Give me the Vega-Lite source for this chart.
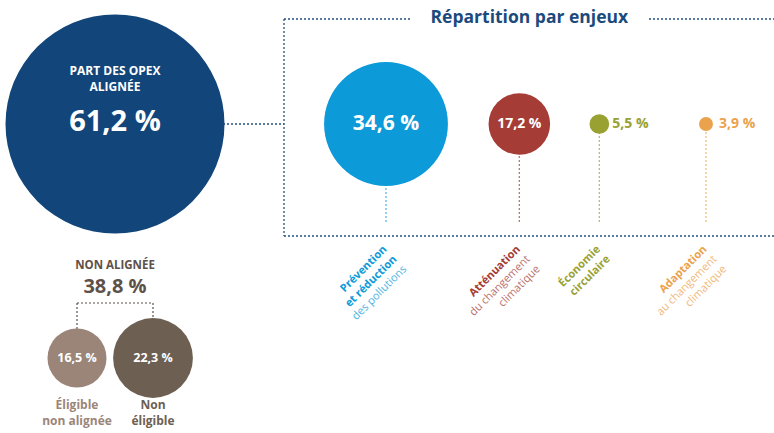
{
  "$schema": "https://vega.github.io/schema/vega-lite/v6.json",
  "width": 774,
  "height": 433,
  "padding": 0,
  "autosize": {"type": "none"},
  "background": "white",
  "config": {
    "view": {"stroke": null},
    "font": "Open Sans",
    "axis": {"disable": true},
    "locale": {"number": {"decimal": ",", "thousands": " ", "grouping": [3], "currency": ["", " €"], "percent": " %"}}
  },
  "datasets": {
    "opex": [
      {"cat": "Alignée", "groupe": "Alignée", "part": 0.612, "libelle": "PART DES OPEX\nALIGNÉE"},
      {"cat": "Éligible non alignée", "groupe": "Non alignée", "part": 0.165, "libelle": "Éligible\nnon alignée"},
      {"cat": "Non éligible", "groupe": "Non alignée", "part": 0.223, "libelle": "Non\néligible"}
    ],
    "total": [{"libelle": "NON ALIGNÉE", "part": 0.388}],
    "enjeux": [
      {"cat": "Prévention et réduction des pollutions", "groupe": "Alignée", "part": 0.346, "titre": "Prévention\net réduction", "detail": "des pollutions"},
      {"cat": "Atténuation du changement climatique", "groupe": "Alignée", "part": 0.172, "titre": "Atténuation", "detail": "du changement\nclimatique"},
      {"cat": "Économie circulaire", "groupe": "Alignée", "part": 0.055, "titre": "Économie\ncirculaire", "detail": ""},
      {"cat": "Adaptation au changement climatique", "groupe": "Alignée", "part": 0.039, "titre": "Adaptation", "detail": "au changement\nclimatique"}
    ]
  },
  "resolve": {"scale": {"x": "independent"}},
  "layer": [
    {
      "layer": [
        {
          "data": {"name": "opex"},
          "transform": [{"filter": "datum.cat === 'Alignée'"}],
          "mark": {"type": "rule", "strokeDash": [2, 2], "strokeWidth": 1.3, "color": "#24507F", "x2Offset": 169},
          "encoding": {
            "x": {"field": "cat", "type": "nominal", "axis": null, "scale": {"type": "point", "domain": ["Éligible non alignée", "Alignée", "Non éligible"], "range": [77, 153], "padding": 0}},
            "x2": {"field": "cat"},
            "y": {"field": "groupe", "type": "nominal", "axis": null, "scale": {"type": "point", "domain": ["Alignée", "Non alignée"], "range": [124, 358], "padding": 0}}
          }
        },
        {
          "data": {"name": "total"},
          "mark": {"type": "rule", "strokeDash": [2, 2], "strokeWidth": 1.2, "color": "#5D5149", "yOffset": -55},
          "encoding": {
            "x": {"datum": "Éligible non alignée", "type": "nominal"},
            "x2": {"datum": "Non éligible"},
            "y": {"datum": "Non alignée", "type": "nominal"}
          }
        },
        {
          "data": {"name": "opex"},
          "transform": [{"filter": "datum.groupe === 'Non alignée'"}],
          "mark": {"type": "rule", "strokeDash": [2, 2], "strokeWidth": 1.2, "color": "#5D5149", "yOffset": -55},
          "encoding": {
            "x": {"field": "cat", "type": "nominal"},
            "y": {"field": "groupe", "type": "nominal"},
            "y2": {"field": "groupe"}
          }
        },
        {
          "data": {"name": "opex"},
          "mark": {"type": "circle", "opacity": 1},
          "encoding": {
            "x": {"field": "cat", "type": "nominal"},
            "y": {"field": "groupe", "type": "nominal"},
            "size": {"field": "part", "type": "quantitative", "legend": null, "scale": {"type": "pow", "exponent": 2, "domain": [0, 0.612], "range": [0, 47961], "zero": true}},
            "color": {"field": "cat", "type": "nominal", "legend": null, "scale": {
              "domain": ["Alignée", "Éligible non alignée", "Non éligible", "Prévention et réduction des pollutions", "Atténuation du changement climatique", "Économie circulaire", "Adaptation au changement climatique"],
              "range": ["#12457A", "#9B8579", "#6D6052", "#0D9AD8", "#A53C36", "#99A133", "#EBA24D"]}}
          }
        },
        {
          "data": {"name": "opex"},
          "transform": [{"filter": "datum.cat === 'Alignée'"}],
          "mark": {"type": "text", "lineBreak": "\n", "lineHeight": 16, "fontSize": 12, "fontWeight": "bold", "color": "white", "baseline": "middle", "dy": -53},
          "encoding": {
            "x": {"field": "cat", "type": "nominal"},
            "y": {"field": "groupe", "type": "nominal"},
            "text": {"field": "libelle"}
          }
        },
        {
          "data": {"name": "opex"},
          "transform": [{"filter": "datum.cat === 'Alignée'"}],
          "mark": {"type": "text", "fontSize": 29, "fontWeight": "bold", "color": "white", "baseline": "middle", "dy": -2},
          "encoding": {
            "x": {"field": "cat", "type": "nominal"},
            "y": {"field": "groupe", "type": "nominal"},
            "text": {"field": "part", "type": "quantitative", "format": ".1%"}
          }
        },
        {
          "data": {"name": "opex"},
          "transform": [{"filter": "datum.groupe === 'Non alignée'"}],
          "mark": {"type": "text", "fontSize": 12.5, "fontWeight": "bold", "color": "white", "baseline": "middle"},
          "encoding": {
            "x": {"field": "cat", "type": "nominal"},
            "y": {"field": "groupe", "type": "nominal"},
            "text": {"field": "part", "type": "quantitative", "format": ".1%"}
          }
        },
        {
          "data": {"name": "opex"},
          "transform": [{"filter": "datum.groupe === 'Non alignée'"}],
          "mark": {"type": "text", "lineBreak": "\n", "lineHeight": 16, "fontSize": 12, "fontWeight": "bold", "baseline": "middle", "dy": 47},
          "encoding": {
            "x": {"field": "cat", "type": "nominal"},
            "y": {"field": "groupe", "type": "nominal"},
            "text": {"field": "libelle"},
            "color": {"field": "cat", "type": "nominal", "legend": null}
          }
        },
        {
          "data": {"name": "total"},
          "mark": {"type": "text", "fontSize": 11.5, "fontWeight": "bold", "color": "#5D5149", "baseline": "middle", "dy": -92},
          "encoding": {
            "x": {"datum": "Alignée", "type": "nominal"},
            "y": {"datum": "Non alignée", "type": "nominal"},
            "text": {"field": "libelle"}
          }
        },
        {
          "data": {"name": "total"},
          "mark": {"type": "text", "fontSize": 20, "fontWeight": "bold", "color": "#5D5149", "baseline": "middle", "dy": -71},
          "encoding": {
            "x": {"datum": "Alignée", "type": "nominal"},
            "y": {"datum": "Non alignée", "type": "nominal"},
            "text": {"field": "part", "type": "quantitative", "format": ".1%"}
          }
        }
      ]
    },
    {
      "layer": [
        {
          "data": {"values": [{"cadre": "Répartition par enjeux"}]},
          "mark": {"type": "rule", "strokeDash": [2, 2], "strokeWidth": 1.3, "color": "#24507F", "xOffset": -102, "yOffset": -105, "y2Offset": 112},
          "encoding": {
            "x": {"datum": "Prévention et réduction des pollutions", "type": "nominal", "axis": null, "scale": {"type": "point", "domain": ["Prévention et réduction des pollutions", "·1", "·2", "·3", "·4", "Atténuation du changement climatique", "·5", "·6", "Économie circulaire", "·7", "·8", "·9", "Adaptation au changement climatique"], "range": [386, 706], "padding": 0}},
            "y": {"datum": "Alignée", "type": "nominal"},
            "y2": {"datum": "Alignée"}
          }
        },
        {
          "data": {"values": [{"cadre": "Répartition par enjeux"}]},
          "mark": {"type": "rule", "strokeDash": [2, 2], "strokeWidth": 1.3, "color": "#24507F", "xOffset": -102, "x2Offset": 24, "yOffset": -105},
          "encoding": {
            "x": {"datum": "Prévention et réduction des pollutions", "type": "nominal"},
            "x2": {"datum": "Prévention et réduction des pollutions"},
            "y": {"datum": "Alignée", "type": "nominal"}
          }
        },
        {
          "data": {"values": [{"cadre": "Répartition par enjeux"}]},
          "mark": {"type": "rule", "strokeDash": [2, 2], "strokeWidth": 1.3, "color": "#24507F", "xOffset": -57, "x2Offset": 70, "yOffset": -105},
          "encoding": {
            "x": {"datum": "Adaptation au changement climatique", "type": "nominal"},
            "x2": {"datum": "Adaptation au changement climatique"},
            "y": {"datum": "Alignée", "type": "nominal"}
          }
        },
        {
          "data": {"values": [{"cadre": "Répartition par enjeux"}]},
          "mark": {"type": "rule", "strokeDash": [2, 2], "strokeWidth": 1.3, "color": "#24507F", "xOffset": -102, "x2Offset": 70, "yOffset": 112},
          "encoding": {
            "x": {"datum": "Prévention et réduction des pollutions", "type": "nominal"},
            "x2": {"datum": "Adaptation au changement climatique"},
            "y": {"datum": "Alignée", "type": "nominal"}
          }
        },
        {
          "data": {"values": [{"cadre": "Répartition par enjeux"}]},
          "mark": {"type": "text", "fontSize": 17.5, "fontWeight": "bold", "color": "#1B4A7D", "baseline": "middle", "dx": 10, "dy": -106},
          "encoding": {
            "x": {"datum": "Atténuation du changement climatique", "type": "nominal"},
            "y": {"datum": "Alignée", "type": "nominal"},
            "text": {"field": "cadre"}
          }
        },
        {
          "data": {"name": "enjeux"},
          "mark": {"type": "rule", "strokeDash": [2, 2], "strokeWidth": 1.3, "opacity": 0.7, "y2Offset": 100},
          "encoding": {
            "x": {"field": "cat", "type": "nominal"},
            "y": {"field": "groupe", "type": "nominal"},
            "y2": {"field": "groupe"},
            "color": {"field": "cat", "type": "nominal", "legend": null}
          }
        },
        {
          "data": {"name": "enjeux"},
          "mark": {"type": "circle", "opacity": 1},
          "encoding": {
            "x": {"field": "cat", "type": "nominal"},
            "y": {"field": "groupe", "type": "nominal"},
            "size": {"field": "part", "type": "quantitative", "legend": null},
            "color": {"field": "cat", "type": "nominal", "legend": null}
          }
        },
        {
          "data": {"name": "enjeux"},
          "transform": [{"filter": "datum.part > 0.1"}],
          "mark": {"type": "text", "fontWeight": "bold", "color": "white", "baseline": "middle"},
          "encoding": {
            "x": {"field": "cat", "type": "nominal"},
            "y": {"field": "groupe", "type": "nominal"},
            "text": {"field": "part", "type": "quantitative", "format": ".1%"},
            "size": {"condition": {"test": "datum.part > 0.3", "value": 21}, "value": 14}
          }
        },
        {
          "data": {"name": "enjeux"},
          "transform": [{"filter": "datum.part < 0.1"}],
          "mark": {"type": "text", "fontWeight": "bold", "fontSize": 14, "align": "left", "baseline": "middle", "dx": 13},
          "encoding": {
            "x": {"field": "cat", "type": "nominal"},
            "y": {"field": "groupe", "type": "nominal"},
            "text": {"field": "part", "type": "quantitative", "format": ".1%"},
            "color": {"field": "cat", "type": "nominal", "legend": null}
          }
        },
        {
          "data": {"name": "enjeux"},
          "mark": {"type": "text", "angle": 315, "align": "right", "baseline": "alphabetic", "lineBreak": "\n", "lineHeight": 14, "fontSize": 11, "fontWeight": "bold", "dx": -88, "dy": 90},
          "encoding": {
            "x": {"field": "cat", "type": "nominal"},
            "y": {"field": "groupe", "type": "nominal"},
            "text": {"field": "titre"},
            "color": {"field": "cat", "type": "nominal", "legend": null}
          }
        },
        {
          "data": {"name": "enjeux"},
          "transform": [{"filter": {"field": "cat", "equal": "Prévention et réduction des pollutions"}}],
          "mark": {"type": "text", "angle": 315, "align": "right", "baseline": "alphabetic", "lineBreak": "\n", "lineHeight": 14, "fontSize": 11, "fontWeight": "normal", "opacity": 0.75, "dx": -88, "dy": 118},
          "encoding": {
            "x": {"field": "cat", "type": "nominal"},
            "y": {"field": "groupe", "type": "nominal"},
            "text": {"field": "detail"},
            "color": {"field": "cat", "type": "nominal", "legend": null}
          }
        },
        {
          "data": {"name": "enjeux"},
          "transform": [{"filter": {"not": {"field": "cat", "equal": "Prévention et réduction des pollutions"}}}],
          "mark": {"type": "text", "angle": 315, "align": "right", "baseline": "alphabetic", "lineBreak": "\n", "lineHeight": 14, "fontSize": 11, "fontWeight": "normal", "opacity": 0.75, "dx": -88, "dy": 104},
          "encoding": {
            "x": {"field": "cat", "type": "nominal"},
            "y": {"field": "groupe", "type": "nominal"},
            "text": {"field": "detail"},
            "color": {"field": "cat", "type": "nominal", "legend": null}
          }
        }
      ]
    }
  ]
}
